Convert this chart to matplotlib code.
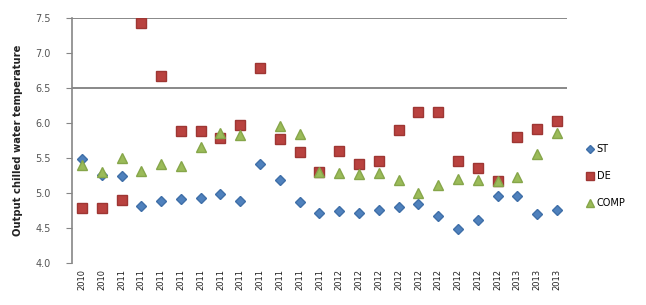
import numpy as np
import matplotlib
matplotlib.use("Agg")
import matplotlib.pyplot as plt

categories = ["2010", "2010", "2011", "2011", "2011", "2011", "2011", "2011", "2011",
              "2011", "2011", "2011", "2011", "2012", "2012", "2012", "2012", "2012",
              "2012", "2012", "2012", "2012", "2013", "2013", "2013"]

st = [5.48, 5.26, 5.24, 4.81, 4.89, 4.91, 4.93, 4.98, 4.89, 5.41, 5.18, 4.87, 4.72,
      4.75, 4.71, 4.76, 4.80, 4.84, 4.67, 4.49, 4.61, 4.95, 4.96, 4.70, 4.76]
de = [4.78, 4.78, 4.90, 7.43, 6.67, 5.88, 5.88, 5.79, 5.97, 6.78, 5.77, 5.58, 5.30,
      5.60, 5.42, 5.46, 5.90, 6.16, 6.16, 5.45, 5.35, 5.17, 5.80, 5.91, 6.03]
comp = [5.40, 5.30, 5.50, 5.31, 5.41, 5.38, 5.66, 5.85, 5.83, np.nan, 5.96, 5.84, 5.30,
        5.29, 5.27, 5.29, 5.19, 5.00, 5.11, 5.20, 5.18, 5.17, 5.23, 5.56, 5.85]

series_names = ["ST", "DE", "COMP"]
yticks = [4.0, 4.5, 5.0, 5.5, 6.0, 6.5, 7.0, 7.5]
gridlines = [6.5, 7.5]

fig = plt.figure(figsize=(6.46, 3.05), dpi=100)
ax = fig.add_axes([0.1115, 0.1377, 0.766, 0.8033])

x = np.arange(len(categories))
h1, = ax.plot(x, st, linestyle="none", marker="D", markersize=5.3,
              color="#4F81BD", markeredgecolor="#3F6FA8", label=series_names[0], zorder=3)
h2, = ax.plot(x, de, linestyle="none", marker="s", markersize=7.0,
              color="#B9423F", markeredgecolor="#9E3633", label=series_names[1], zorder=3)
h3, = ax.plot(x, comp, linestyle="none", marker="^", markersize=7.3,
              color="#9BBB59", markeredgecolor="#86A64A", label=series_names[2], zorder=3)

ax.set_xlim(-0.5, len(categories) - 0.5)
ax.set_ylim(4.0, 7.5)
ax.set_yticks(yticks)
ax.set_yticklabels([f"{v:.1f}" for v in yticks], fontsize=7, color="#555555")
ax.set_xticks(x)
ax.set_xticklabels(categories, rotation=90, fontsize=6, color="#222222")
ax.tick_params(axis="x", length=0, pad=4)
ax.tick_params(axis="y", length=4, color="#868686", direction="out", pad=17)
for lbl in ax.get_yticklabels():
    lbl.set_horizontalalignment("center")

for g in gridlines:
    ax.axhline(g, color="#7F7F7F", linewidth=1.3, zorder=1)

for s in ["top", "right", "bottom"]:
    ax.spines[s].set_visible(False)
ax.spines["left"].set_color("#868686")
ax.spines["left"].set_linewidth(1.2)

ax.set_ylabel("Output chilled water temperature", fontsize=7.2, fontweight="bold",
              color="#222222", labelpad=9)

ax.legend(handles=[h1, h2, h3], loc="center left", bbox_to_anchor=(1.025, 0.355),
          frameon=False, fontsize=7, labelspacing=1.75, handletextpad=0.1,
          handlelength=1.2, borderpad=0, markerscale=0.85)

fig.savefig("out.png", dpi=100)
